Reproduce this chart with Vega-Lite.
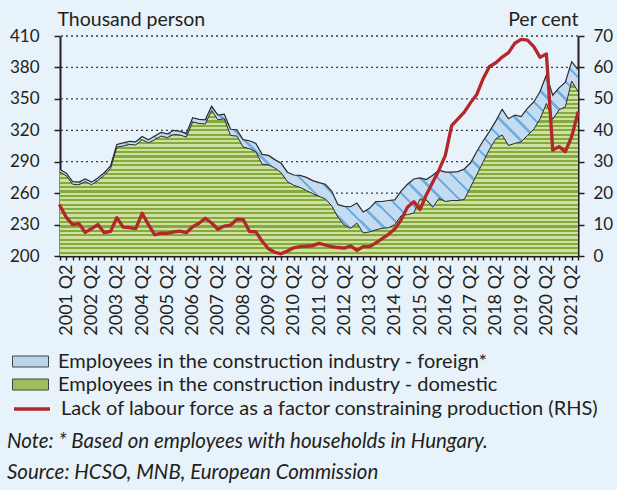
{
  "$schema": "https://vega.github.io/schema/vega-lite/v6.json",
  "width": 518,
  "height": 220,
  "autosize": {"type": "none"},
  "padding": {"left": 60, "top": 36, "right": 39, "bottom": 234},
  "title": {
    "text": "Note: * Based on employees with households in Hungary.",
    "subtitle": "Source: HCSO, MNB, European Commission",
    "orient": "bottom", "anchor": "start", "frame": "group", "dx": -53, "offset": 13,
    "font": "Lato", "fontSize": 20.5, "fontStyle": "italic", "fontWeight": "normal", "color": "#231F20",
    "subtitleFont": "Lato", "subtitleFontSize": 20.5, "subtitleFontStyle": "italic", "subtitleColor": "#231F20", "subtitlePadding": 10
  },
  "data": {"values": [
    {"quarter":"2001 Q1","domestic":280,"total":282.5,"labour":16},
    {"quarter":"2001 Q2","domestic":276.5,"total":279,"labour":12.3},
    {"quarter":"2001 Q3","domestic":268.5,"total":271,"labour":10},
    {"quarter":"2001 Q4","domestic":268,"total":270.5,"labour":10.3},
    {"quarter":"2002 Q1","domestic":271,"total":273.5,"labour":7.5},
    {"quarter":"2002 Q2","domestic":268,"total":270.5,"labour":8.7},
    {"quarter":"2002 Q3","domestic":272,"total":274.5,"labour":10},
    {"quarter":"2002 Q4","domestic":277,"total":279.5,"labour":7.4},
    {"quarter":"2003 Q1","domestic":283.5,"total":286,"labour":7.8},
    {"quarter":"2003 Q2","domestic":304,"total":306.5,"labour":12.2},
    {"quarter":"2003 Q3","domestic":305,"total":308,"labour":9.2},
    {"quarter":"2003 Q4","domestic":306.5,"total":309.5,"labour":9},
    {"quarter":"2004 Q1","domestic":306,"total":309,"labour":8.7},
    {"quarter":"2004 Q2","domestic":311,"total":314,"labour":13.6},
    {"quarter":"2004 Q3","domestic":308,"total":311,"labour":10},
    {"quarter":"2004 Q4","domestic":311,"total":314.5,"labour":6.7},
    {"quarter":"2005 Q1","domestic":314.5,"total":318,"labour":7.3},
    {"quarter":"2005 Q2","domestic":313,"total":316.5,"labour":7.2},
    {"quarter":"2005 Q3","domestic":316,"total":320,"labour":7.7},
    {"quarter":"2005 Q4","domestic":315.5,"total":319,"labour":7.9},
    {"quarter":"2006 Q1","domestic":313.5,"total":317,"labour":7.4},
    {"quarter":"2006 Q2","domestic":328,"total":332,"labour":9.3},
    {"quarter":"2006 Q3","domestic":326.5,"total":330.5,"labour":10.4},
    {"quarter":"2006 Q4","domestic":326,"total":330,"labour":12},
    {"quarter":"2007 Q1","domestic":339,"total":343,"labour":10.5},
    {"quarter":"2007 Q2","domestic":330,"total":334.5,"labour":8.5},
    {"quarter":"2007 Q3","domestic":331,"total":335.5,"labour":9.5},
    {"quarter":"2007 Q4","domestic":315,"total":321,"labour":9.8},
    {"quarter":"2008 Q1","domestic":314.5,"total":320.5,"labour":11.7},
    {"quarter":"2008 Q2","domestic":304,"total":311,"labour":11.6},
    {"quarter":"2008 Q3","domestic":302.5,"total":310,"labour":7.8},
    {"quarter":"2008 Q4","domestic":299.5,"total":307.5,"labour":7.7},
    {"quarter":"2009 Q1","domestic":287.5,"total":297,"labour":4.7},
    {"quarter":"2009 Q2","domestic":287,"total":296,"labour":2.3},
    {"quarter":"2009 Q3","domestic":284,"total":292,"labour":1.2},
    {"quarter":"2009 Q4","domestic":279.5,"total":288.5,"labour":0.7},
    {"quarter":"2010 Q1","domestic":271,"total":280,"labour":1.6},
    {"quarter":"2010 Q2","domestic":267.5,"total":277.3,"labour":2.6},
    {"quarter":"2010 Q3","domestic":265.5,"total":277,"labour":3},
    {"quarter":"2010 Q4","domestic":262.5,"total":275,"labour":3.1},
    {"quarter":"2011 Q1","domestic":259.5,"total":272,"labour":3.3},
    {"quarter":"2011 Q2","domestic":257,"total":270,"labour":4},
    {"quarter":"2011 Q3","domestic":254.5,"total":268.5,"labour":3.5},
    {"quarter":"2011 Q4","domestic":248,"total":262,"labour":3},
    {"quarter":"2012 Q1","domestic":237,"total":249,"labour":2.7},
    {"quarter":"2012 Q2","domestic":229.5,"total":247.3,"labour":2.5},
    {"quarter":"2012 Q3","domestic":226.5,"total":247,"labour":3.2},
    {"quarter":"2012 Q4","domestic":231.5,"total":250.5,"labour":1.8},
    {"quarter":"2013 Q1","domestic":222,"total":242,"labour":3},
    {"quarter":"2013 Q2","domestic":223,"total":245.5,"labour":3},
    {"quarter":"2013 Q3","domestic":225,"total":252,"labour":4.2},
    {"quarter":"2013 Q4","domestic":226.5,"total":252,"labour":5.5},
    {"quarter":"2014 Q1","domestic":227,"total":253,"labour":6.9},
    {"quarter":"2014 Q2","domestic":230,"total":253.5,"labour":8.6},
    {"quarter":"2014 Q3","domestic":238.5,"total":262,"labour":11.5},
    {"quarter":"2014 Q4","domestic":239.5,"total":268.5,"labour":15.5},
    {"quarter":"2015 Q1","domestic":241,"total":273.5,"labour":17.3},
    {"quarter":"2015 Q2","domestic":254.5,"total":274.5,"labour":14.8},
    {"quarter":"2015 Q3","domestic":253.5,"total":273,"labour":19.5},
    {"quarter":"2015 Q4","domestic":246.5,"total":277,"labour":23.5},
    {"quarter":"2016 Q1","domestic":255,"total":282,"labour":27.4},
    {"quarter":"2016 Q2","domestic":252,"total":280,"labour":32},
    {"quarter":"2016 Q3","domestic":253,"total":280,"labour":41.5},
    {"quarter":"2016 Q4","domestic":253,"total":280.5,"labour":43.6},
    {"quarter":"2017 Q1","domestic":254,"total":283,"labour":45.8},
    {"quarter":"2017 Q2","domestic":266,"total":289,"labour":48.8},
    {"quarter":"2017 Q3","domestic":278,"total":300,"labour":51.5},
    {"quarter":"2017 Q4","domestic":290,"total":310,"labour":56.5},
    {"quarter":"2018 Q1","domestic":302,"total":319,"labour":60.3},
    {"quarter":"2018 Q2","domestic":312,"total":329,"labour":61.5},
    {"quarter":"2018 Q3","domestic":315.5,"total":340,"labour":63.3},
    {"quarter":"2018 Q4","domestic":305.5,"total":331,"labour":64.7},
    {"quarter":"2019 Q1","domestic":307.5,"total":334.5,"labour":67.7},
    {"quarter":"2019 Q2","domestic":309,"total":333,"labour":68.9},
    {"quarter":"2019 Q3","domestic":315,"total":341,"labour":68.7},
    {"quarter":"2019 Q4","domestic":321,"total":347,"labour":66.6},
    {"quarter":"2020 Q1","domestic":331,"total":357,"labour":63.2},
    {"quarter":"2020 Q2","domestic":345.5,"total":373,"labour":64.3},
    {"quarter":"2020 Q3","domestic":330.5,"total":353.5,"labour":33.7},
    {"quarter":"2020 Q4","domestic":339.5,"total":360.5,"labour":34.8},
    {"quarter":"2021 Q1","domestic":342.5,"total":366,"labour":33.2},
    {"quarter":"2021 Q2","domestic":367,"total":385.5,"labour":38},
    {"quarter":"2021 Q3","domestic":357,"total":378,"labour":45.6}
  ]},
  "layer": [
    {
      "data": {"values": [{"level": 230}, {"level": 260}, {"level": 290}, {"level": 320}, {"level": 350}, {"level": 380}, {"level": 410}]},
      "mark": {"type": "rule", "strokeDash": [2, 3], "color": "#3C3C3C", "strokeWidth": 1.3},
      "encoding": {
        "y": {"field": "level", "type": "quantitative", "scale": {"domain": [200, 410], "nice": false, "zero": false}, "axis": null}
      }
    },
    {
      "mark": {"type": "area"},
      "encoding": {
        "x": {"field": "quarter", "type": "ordinal", "sort": null, "scale": {"type": "point", "padding": 0},
          "axis": {"title": null, "labelAngle": 270, "labelAlign": "right", "labelBaseline": "middle", "labelFontSize": 18,
            "labelExpr": "indexof(datum.label, 'Q2') >= 0 ? datum.label : ''", "labelOverlap": false,
            "tickSize": 4, "tickWidth": 1.5, "domainWidth": 2, "labelPadding": 4, "grid": false}},
        "y": {"field": "domestic", "type": "quantitative", "scale": {"domain": [200, 410], "nice": false, "zero": false},
          "axis": {"title": "Thousand person", "orient": "left", "titleAngle": 0, "titleAlign": "left", "titleBaseline": "alphabetic",
            "titleX": -3, "titleY": -11, "values": [200, 230, 260, 290, 320, 350, 380, 410], "grid": false,
            "domainWidth": 2, "tickSize": 6, "tickWidth": 1.5, "labelPadding": 15}},
        "y2": {"datum": 200},
        "fill": {"datum": "Employees in the construction industry - domestic", "type": "nominal",
          "scale": {"domain": ["Employees in the construction industry - foreign*", "Employees in the construction industry - domestic"], "range": ["#B9D5EE", "#9DBE5E"]},
          "legend": {"orient": "none", "legendX": -40, "legendY": 315, "title": null,
            "symbolType": "M-1.8,-0.55H1.8V0.55H-1.8Z", "symbolSize": 400, "symbolStrokeColor": "#444444", "symbolStrokeWidth": 1,
            "labelFont": "Lato", "labelFontSize": 20, "labelColor": "#231F20", "labelOffset": 17, "rowPadding": 2, "labelLimit": 600}
        }
      }
    },
    {
      "mark": {"type": "area", "fill": {"gradient": "linear", "x1": 0, "y1": 0, "x2": 0, "y2": 1, "stops": [
        {"offset":0,"color":"#84A93F"},{"offset":0.0125,"color":"#84A93F"},{"offset":0.0125,"color":"#CDE09E"},{"offset":0.025,"color":"#CDE09E"},
        {"offset":0.025,"color":"#84A93F"},{"offset":0.0375,"color":"#84A93F"},{"offset":0.0375,"color":"#CDE09E"},{"offset":0.05,"color":"#CDE09E"},
        {"offset":0.05,"color":"#84A93F"},{"offset":0.0625,"color":"#84A93F"},{"offset":0.0625,"color":"#CDE09E"},{"offset":0.075,"color":"#CDE09E"},
        {"offset":0.075,"color":"#84A93F"},{"offset":0.0875,"color":"#84A93F"},{"offset":0.0875,"color":"#CDE09E"},{"offset":0.1,"color":"#CDE09E"},
        {"offset":0.1,"color":"#84A93F"},{"offset":0.1125,"color":"#84A93F"},{"offset":0.1125,"color":"#CDE09E"},{"offset":0.125,"color":"#CDE09E"},
        {"offset":0.125,"color":"#84A93F"},{"offset":0.1375,"color":"#84A93F"},{"offset":0.1375,"color":"#CDE09E"},{"offset":0.15,"color":"#CDE09E"},
        {"offset":0.15,"color":"#84A93F"},{"offset":0.1625,"color":"#84A93F"},{"offset":0.1625,"color":"#CDE09E"},{"offset":0.175,"color":"#CDE09E"},
        {"offset":0.175,"color":"#84A93F"},{"offset":0.1875,"color":"#84A93F"},{"offset":0.1875,"color":"#CDE09E"},{"offset":0.2,"color":"#CDE09E"},
        {"offset":0.2,"color":"#84A93F"},{"offset":0.2125,"color":"#84A93F"},{"offset":0.2125,"color":"#CDE09E"},{"offset":0.225,"color":"#CDE09E"},
        {"offset":0.225,"color":"#84A93F"},{"offset":0.2375,"color":"#84A93F"},{"offset":0.2375,"color":"#CDE09E"},{"offset":0.25,"color":"#CDE09E"},
        {"offset":0.25,"color":"#84A93F"},{"offset":0.2625,"color":"#84A93F"},{"offset":0.2625,"color":"#CDE09E"},{"offset":0.275,"color":"#CDE09E"},
        {"offset":0.275,"color":"#84A93F"},{"offset":0.2875,"color":"#84A93F"},{"offset":0.2875,"color":"#CDE09E"},{"offset":0.3,"color":"#CDE09E"},
        {"offset":0.3,"color":"#84A93F"},{"offset":0.3125,"color":"#84A93F"},{"offset":0.3125,"color":"#CDE09E"},{"offset":0.325,"color":"#CDE09E"},
        {"offset":0.325,"color":"#84A93F"},{"offset":0.3375,"color":"#84A93F"},{"offset":0.3375,"color":"#CDE09E"},{"offset":0.35,"color":"#CDE09E"},
        {"offset":0.35,"color":"#84A93F"},{"offset":0.3625,"color":"#84A93F"},{"offset":0.3625,"color":"#CDE09E"},{"offset":0.375,"color":"#CDE09E"},
        {"offset":0.375,"color":"#84A93F"},{"offset":0.3875,"color":"#84A93F"},{"offset":0.3875,"color":"#CDE09E"},{"offset":0.4,"color":"#CDE09E"},
        {"offset":0.4,"color":"#84A93F"},{"offset":0.4125,"color":"#84A93F"},{"offset":0.4125,"color":"#CDE09E"},{"offset":0.425,"color":"#CDE09E"},
        {"offset":0.425,"color":"#84A93F"},{"offset":0.4375,"color":"#84A93F"},{"offset":0.4375,"color":"#CDE09E"},{"offset":0.45,"color":"#CDE09E"},
        {"offset":0.45,"color":"#84A93F"},{"offset":0.4625,"color":"#84A93F"},{"offset":0.4625,"color":"#CDE09E"},{"offset":0.475,"color":"#CDE09E"},
        {"offset":0.475,"color":"#84A93F"},{"offset":0.4875,"color":"#84A93F"},{"offset":0.4875,"color":"#CDE09E"},{"offset":0.5,"color":"#CDE09E"},
        {"offset":0.5,"color":"#84A93F"},{"offset":0.5125,"color":"#84A93F"},{"offset":0.5125,"color":"#CDE09E"},{"offset":0.525,"color":"#CDE09E"},
        {"offset":0.525,"color":"#84A93F"},{"offset":0.5375,"color":"#84A93F"},{"offset":0.5375,"color":"#CDE09E"},{"offset":0.55,"color":"#CDE09E"},
        {"offset":0.55,"color":"#84A93F"},{"offset":0.5625,"color":"#84A93F"},{"offset":0.5625,"color":"#CDE09E"},{"offset":0.575,"color":"#CDE09E"},
        {"offset":0.575,"color":"#84A93F"},{"offset":0.5875,"color":"#84A93F"},{"offset":0.5875,"color":"#CDE09E"},{"offset":0.6,"color":"#CDE09E"},
        {"offset":0.6,"color":"#84A93F"},{"offset":0.6125,"color":"#84A93F"},{"offset":0.6125,"color":"#CDE09E"},{"offset":0.625,"color":"#CDE09E"},
        {"offset":0.625,"color":"#84A93F"},{"offset":0.6375,"color":"#84A93F"},{"offset":0.6375,"color":"#CDE09E"},{"offset":0.65,"color":"#CDE09E"},
        {"offset":0.65,"color":"#84A93F"},{"offset":0.6625,"color":"#84A93F"},{"offset":0.6625,"color":"#CDE09E"},{"offset":0.675,"color":"#CDE09E"},
        {"offset":0.675,"color":"#84A93F"},{"offset":0.6875,"color":"#84A93F"},{"offset":0.6875,"color":"#CDE09E"},{"offset":0.7,"color":"#CDE09E"},
        {"offset":0.7,"color":"#84A93F"},{"offset":0.7125,"color":"#84A93F"},{"offset":0.7125,"color":"#CDE09E"},{"offset":0.725,"color":"#CDE09E"},
        {"offset":0.725,"color":"#84A93F"},{"offset":0.7375,"color":"#84A93F"},{"offset":0.7375,"color":"#CDE09E"},{"offset":0.75,"color":"#CDE09E"},
        {"offset":0.75,"color":"#84A93F"},{"offset":0.7625,"color":"#84A93F"},{"offset":0.7625,"color":"#CDE09E"},{"offset":0.775,"color":"#CDE09E"},
        {"offset":0.775,"color":"#84A93F"},{"offset":0.7875,"color":"#84A93F"},{"offset":0.7875,"color":"#CDE09E"},{"offset":0.8,"color":"#CDE09E"},
        {"offset":0.8,"color":"#84A93F"},{"offset":0.8125,"color":"#84A93F"},{"offset":0.8125,"color":"#CDE09E"},{"offset":0.825,"color":"#CDE09E"},
        {"offset":0.825,"color":"#84A93F"},{"offset":0.8375,"color":"#84A93F"},{"offset":0.8375,"color":"#CDE09E"},{"offset":0.85,"color":"#CDE09E"},
        {"offset":0.85,"color":"#84A93F"},{"offset":0.8625,"color":"#84A93F"},{"offset":0.8625,"color":"#CDE09E"},{"offset":0.875,"color":"#CDE09E"},
        {"offset":0.875,"color":"#84A93F"},{"offset":0.8875,"color":"#84A93F"},{"offset":0.8875,"color":"#CDE09E"},{"offset":0.9,"color":"#CDE09E"},
        {"offset":0.9,"color":"#84A93F"},{"offset":0.9125,"color":"#84A93F"},{"offset":0.9125,"color":"#CDE09E"},{"offset":0.925,"color":"#CDE09E"},
        {"offset":0.925,"color":"#84A93F"},{"offset":0.9375,"color":"#84A93F"},{"offset":0.9375,"color":"#CDE09E"},{"offset":0.95,"color":"#CDE09E"},
        {"offset":0.95,"color":"#84A93F"},{"offset":0.9625,"color":"#84A93F"},{"offset":0.9625,"color":"#CDE09E"},{"offset":0.975,"color":"#CDE09E"},
        {"offset":0.975,"color":"#84A93F"},{"offset":0.9875,"color":"#84A93F"},{"offset":0.9875,"color":"#CDE09E"},{"offset":1,"color":"#CDE09E"}
      ]}},
      "encoding": {
        "x": {"field": "quarter", "type": "ordinal", "sort": null, "scale": {"type": "point", "padding": 0}},
        "y": {"field": "domestic", "type": "quantitative", "scale": {"domain": [200, 410], "nice": false, "zero": false}, "axis": null},
        "y2": {"datum": 200}
      }
    },
    {
      "mark": {"type": "area"},
      "encoding": {
        "x": {"field": "quarter", "type": "ordinal", "sort": null, "scale": {"type": "point", "padding": 0}},
        "y": {"field": "total", "type": "quantitative", "scale": {"domain": [200, 410], "nice": false, "zero": false}, "axis": null},
        "y2": {"field": "domestic"},
        "fill": {"datum": "Employees in the construction industry - foreign*", "type": "nominal"}
      }
    },
    {
      "mark": {"type": "area", "fill": {"gradient": "linear", "x1": 0, "y1": 1, "x2": 1.2, "y2": 0.6016, "stops": [
        {"offset":0,"color":"#74AEDC"},{"offset":0.005,"color":"#74AEDC"},{"offset":0.005,"color":"#C4DCF1"},{"offset":0.025,"color":"#C4DCF1"},
        {"offset":0.025,"color":"#74AEDC"},{"offset":0.03,"color":"#74AEDC"},{"offset":0.03,"color":"#C4DCF1"},{"offset":0.05,"color":"#C4DCF1"},
        {"offset":0.05,"color":"#74AEDC"},{"offset":0.055,"color":"#74AEDC"},{"offset":0.055,"color":"#C4DCF1"},{"offset":0.075,"color":"#C4DCF1"},
        {"offset":0.075,"color":"#74AEDC"},{"offset":0.08,"color":"#74AEDC"},{"offset":0.08,"color":"#C4DCF1"},{"offset":0.1,"color":"#C4DCF1"},
        {"offset":0.1,"color":"#74AEDC"},{"offset":0.105,"color":"#74AEDC"},{"offset":0.105,"color":"#C4DCF1"},{"offset":0.125,"color":"#C4DCF1"},
        {"offset":0.125,"color":"#74AEDC"},{"offset":0.13,"color":"#74AEDC"},{"offset":0.13,"color":"#C4DCF1"},{"offset":0.15,"color":"#C4DCF1"},
        {"offset":0.15,"color":"#74AEDC"},{"offset":0.155,"color":"#74AEDC"},{"offset":0.155,"color":"#C4DCF1"},{"offset":0.175,"color":"#C4DCF1"},
        {"offset":0.175,"color":"#74AEDC"},{"offset":0.18,"color":"#74AEDC"},{"offset":0.18,"color":"#C4DCF1"},{"offset":0.2,"color":"#C4DCF1"},
        {"offset":0.2,"color":"#74AEDC"},{"offset":0.205,"color":"#74AEDC"},{"offset":0.205,"color":"#C4DCF1"},{"offset":0.225,"color":"#C4DCF1"},
        {"offset":0.225,"color":"#74AEDC"},{"offset":0.23,"color":"#74AEDC"},{"offset":0.23,"color":"#C4DCF1"},{"offset":0.25,"color":"#C4DCF1"},
        {"offset":0.25,"color":"#74AEDC"},{"offset":0.255,"color":"#74AEDC"},{"offset":0.255,"color":"#C4DCF1"},{"offset":0.275,"color":"#C4DCF1"},
        {"offset":0.275,"color":"#74AEDC"},{"offset":0.28,"color":"#74AEDC"},{"offset":0.28,"color":"#C4DCF1"},{"offset":0.3,"color":"#C4DCF1"},
        {"offset":0.3,"color":"#74AEDC"},{"offset":0.305,"color":"#74AEDC"},{"offset":0.305,"color":"#C4DCF1"},{"offset":0.325,"color":"#C4DCF1"},
        {"offset":0.325,"color":"#74AEDC"},{"offset":0.33,"color":"#74AEDC"},{"offset":0.33,"color":"#C4DCF1"},{"offset":0.35,"color":"#C4DCF1"},
        {"offset":0.35,"color":"#74AEDC"},{"offset":0.355,"color":"#74AEDC"},{"offset":0.355,"color":"#C4DCF1"},{"offset":0.375,"color":"#C4DCF1"},
        {"offset":0.375,"color":"#74AEDC"},{"offset":0.38,"color":"#74AEDC"},{"offset":0.38,"color":"#C4DCF1"},{"offset":0.4,"color":"#C4DCF1"},
        {"offset":0.4,"color":"#74AEDC"},{"offset":0.405,"color":"#74AEDC"},{"offset":0.405,"color":"#C4DCF1"},{"offset":0.425,"color":"#C4DCF1"},
        {"offset":0.425,"color":"#74AEDC"},{"offset":0.43,"color":"#74AEDC"},{"offset":0.43,"color":"#C4DCF1"},{"offset":0.45,"color":"#C4DCF1"},
        {"offset":0.45,"color":"#74AEDC"},{"offset":0.455,"color":"#74AEDC"},{"offset":0.455,"color":"#C4DCF1"},{"offset":0.475,"color":"#C4DCF1"},
        {"offset":0.475,"color":"#74AEDC"},{"offset":0.48,"color":"#74AEDC"},{"offset":0.48,"color":"#C4DCF1"},{"offset":0.5,"color":"#C4DCF1"},
        {"offset":0.5,"color":"#74AEDC"},{"offset":0.505,"color":"#74AEDC"},{"offset":0.505,"color":"#C4DCF1"},{"offset":0.525,"color":"#C4DCF1"},
        {"offset":0.525,"color":"#74AEDC"},{"offset":0.53,"color":"#74AEDC"},{"offset":0.53,"color":"#C4DCF1"},{"offset":0.55,"color":"#C4DCF1"},
        {"offset":0.55,"color":"#74AEDC"},{"offset":0.555,"color":"#74AEDC"},{"offset":0.555,"color":"#C4DCF1"},{"offset":0.575,"color":"#C4DCF1"},
        {"offset":0.575,"color":"#74AEDC"},{"offset":0.58,"color":"#74AEDC"},{"offset":0.58,"color":"#C4DCF1"},{"offset":0.6,"color":"#C4DCF1"},
        {"offset":0.6,"color":"#74AEDC"},{"offset":0.605,"color":"#74AEDC"},{"offset":0.605,"color":"#C4DCF1"},{"offset":0.625,"color":"#C4DCF1"},
        {"offset":0.625,"color":"#74AEDC"},{"offset":0.63,"color":"#74AEDC"},{"offset":0.63,"color":"#C4DCF1"},{"offset":0.65,"color":"#C4DCF1"},
        {"offset":0.65,"color":"#74AEDC"},{"offset":0.655,"color":"#74AEDC"},{"offset":0.655,"color":"#C4DCF1"},{"offset":0.675,"color":"#C4DCF1"},
        {"offset":0.675,"color":"#74AEDC"},{"offset":0.68,"color":"#74AEDC"},{"offset":0.68,"color":"#C4DCF1"},{"offset":0.7,"color":"#C4DCF1"},
        {"offset":0.7,"color":"#74AEDC"},{"offset":0.705,"color":"#74AEDC"},{"offset":0.705,"color":"#C4DCF1"},{"offset":0.725,"color":"#C4DCF1"},
        {"offset":0.725,"color":"#74AEDC"},{"offset":0.73,"color":"#74AEDC"},{"offset":0.73,"color":"#C4DCF1"},{"offset":0.75,"color":"#C4DCF1"},
        {"offset":0.75,"color":"#74AEDC"},{"offset":0.755,"color":"#74AEDC"},{"offset":0.755,"color":"#C4DCF1"},{"offset":0.775,"color":"#C4DCF1"},
        {"offset":0.775,"color":"#74AEDC"},{"offset":0.78,"color":"#74AEDC"},{"offset":0.78,"color":"#C4DCF1"},{"offset":0.8,"color":"#C4DCF1"},
        {"offset":0.8,"color":"#74AEDC"},{"offset":0.805,"color":"#74AEDC"},{"offset":0.805,"color":"#C4DCF1"},{"offset":0.825,"color":"#C4DCF1"},
        {"offset":0.825,"color":"#74AEDC"},{"offset":0.83,"color":"#74AEDC"},{"offset":0.83,"color":"#C4DCF1"},{"offset":0.85,"color":"#C4DCF1"},
        {"offset":0.85,"color":"#74AEDC"},{"offset":0.855,"color":"#74AEDC"},{"offset":0.855,"color":"#C4DCF1"},{"offset":0.875,"color":"#C4DCF1"},
        {"offset":0.875,"color":"#74AEDC"},{"offset":0.88,"color":"#74AEDC"},{"offset":0.88,"color":"#C4DCF1"},{"offset":0.9,"color":"#C4DCF1"},
        {"offset":0.9,"color":"#74AEDC"},{"offset":0.905,"color":"#74AEDC"},{"offset":0.905,"color":"#C4DCF1"},{"offset":0.925,"color":"#C4DCF1"},
        {"offset":0.925,"color":"#74AEDC"},{"offset":0.93,"color":"#74AEDC"},{"offset":0.93,"color":"#C4DCF1"},{"offset":0.95,"color":"#C4DCF1"},
        {"offset":0.95,"color":"#74AEDC"},{"offset":0.955,"color":"#74AEDC"},{"offset":0.955,"color":"#C4DCF1"},{"offset":0.975,"color":"#C4DCF1"},
        {"offset":0.975,"color":"#74AEDC"},{"offset":0.98,"color":"#74AEDC"},{"offset":0.98,"color":"#C4DCF1"},{"offset":1,"color":"#C4DCF1"}
      ]}},
      "encoding": {
        "x": {"field": "quarter", "type": "ordinal", "sort": null, "scale": {"type": "point", "padding": 0}},
        "y": {"field": "total", "type": "quantitative", "scale": {"domain": [200, 410], "nice": false, "zero": false}, "axis": null},
        "y2": {"field": "domestic"}
      }
    },
    {
      "mark": {"type": "line", "stroke": "#2B2B2B", "strokeWidth": 1},
      "encoding": {
        "x": {"field": "quarter", "type": "ordinal", "sort": null, "scale": {"type": "point", "padding": 0}},
        "y": {"field": "domestic", "type": "quantitative", "scale": {"domain": [200, 410], "nice": false, "zero": false}, "axis": null}
      }
    },
    {
      "mark": {"type": "line", "stroke": "#2B2B2B", "strokeWidth": 1.2},
      "encoding": {
        "x": {"field": "quarter", "type": "ordinal", "sort": null, "scale": {"type": "point", "padding": 0}},
        "y": {"field": "total", "type": "quantitative", "scale": {"domain": [200, 410], "nice": false, "zero": false}, "axis": null}
      }
    },
    {
      "mark": {"type": "line", "strokeWidth": 3.3, "strokeJoin": "round", "strokeCap": "round"},
      "encoding": {
        "x": {"field": "quarter", "type": "ordinal", "sort": null, "scale": {"type": "point", "padding": 0}},
        "y": {"field": "labour", "type": "quantitative", "scale": {"domain": [0, 70], "nice": false},
          "axis": {"title": "Per cent", "orient": "right", "titleAngle": 0, "titleAlign": "right", "titleBaseline": "alphabetic",
            "titleX": 0, "titleY": -11, "values": [0, 10, 20, 30, 40, 50, 60, 70], "grid": false,
            "domainWidth": 2, "tickSize": 6, "tickWidth": 1.5, "labelPadding": 9}},
        "stroke": {"datum": "Lack of labour force as a factor constraining production (RHS)", "type": "nominal",
          "scale": {"range": ["#B3262B"]},
          "legend": {"orient": "none", "legendX": -40, "legendY": 361, "title": null,
            "symbolType": "M-1.8,0H1.8", "symbolSize": 400, "symbolStrokeWidth": 3.5,
            "labelFont": "Lato", "labelFontSize": 20, "labelColor": "#231F20", "labelOffset": 17, "labelLimit": 600}}
      }
    }
  ],
  "resolve": {"scale": {"y": "independent"}},
  "config": {
    "background": "#E8F2FA",
    "view": {"stroke": null},
    "font": "Lato",
    "axis": {"labelFont": "Lato", "labelFontSize": 17, "labelColor": "#231F20", "titleFont": "Lato", "titleFontSize": 19.5,
      "titleFontWeight": "normal", "titleColor": "#231F20", "domainColor": "#231F20", "tickColor": "#231F20"}
  }
}
